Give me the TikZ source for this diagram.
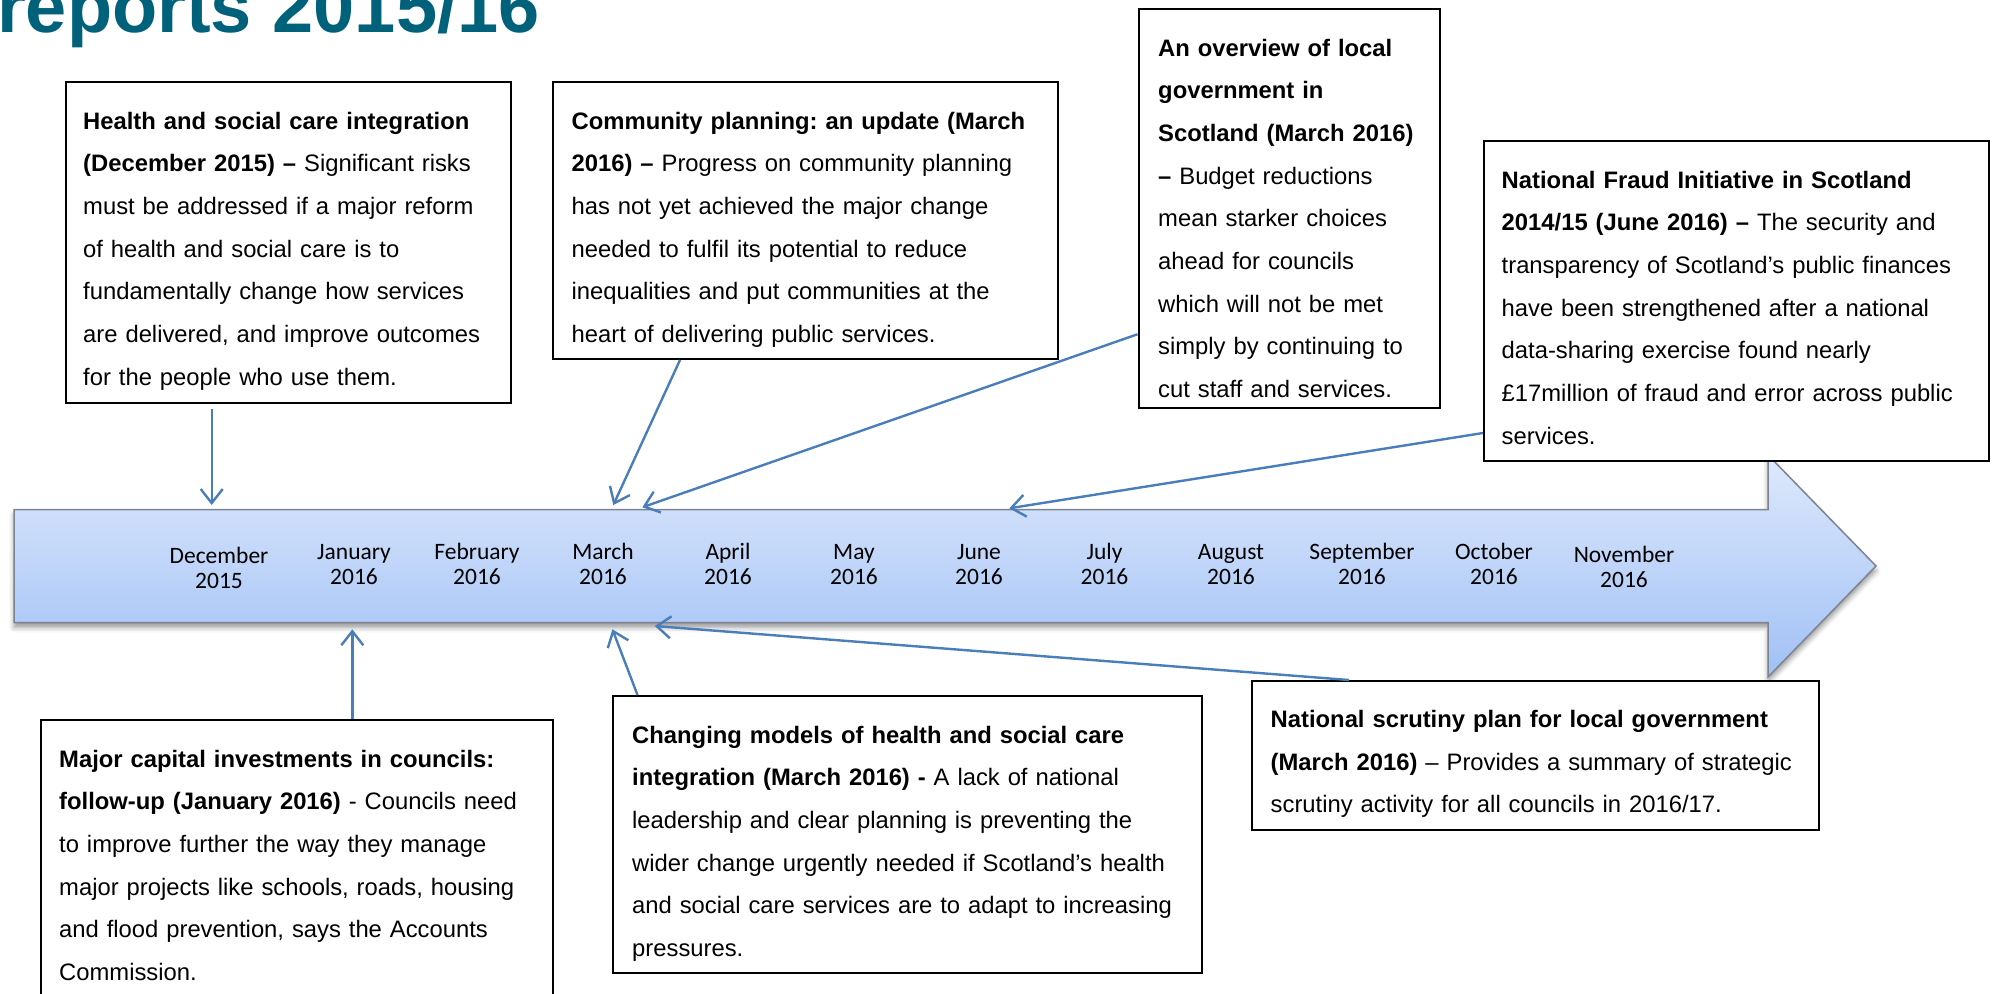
\documentclass[tikz,border=0pt]{standalone}
\usepackage{fontspec}
\setmainfont{Liberation Sans}
\newfontfamily\calfont{Carlito}
\usetikzlibrary{arrows.meta,calc,shadows.blur}
\definecolor{titleblue}{RGB}{0,97,122}
\definecolor{connblue}{RGB}{74,126,187}
\definecolor{arrowtop}{RGB}{222,233,252}
\definecolor{arrowbot}{RGB}{160,192,245}
\definecolor{arrowline}{RGB}{125,132,145}
\frenchspacing
\begin{document}
\begin{tikzpicture}[x=1pt,y=-1pt,
  box/.style={draw=black, line width=2pt, fill=white, rectangle, inner sep=0pt, anchor=north west},
  txt/.style={anchor=base west, inner sep=0pt, align=left, font=\frenchspacing\fontsize{23.8}{42.7}\selectfont},
  month/.style={font=\calfont\fontsize{23.5}{25}\selectfont, align=center, inner sep=0pt},
  conn/.style={draw=connblue, line width=2.4pt, -{Straight Barb[length=14pt,width=22pt]}},
  timeline/.style={draw=arrowline, line width=1.5pt, top color=arrowtop, bottom color=arrowbot,
    blur shadow={shadow xshift=0pt, shadow yshift=-5pt, shadow blur radius=5pt, shadow opacity=40}},
]
\useasboundingbox (0,0) rectangle (1993,993);

% title
\node[anchor=base west, inner sep=0pt, text=titleblue, font=\bfseries\fontsize{74}{80}\selectfont] (title) at (-3,32) {reports 2015/16};

% timeline arrow
\path[timeline] (14,509.5) -- (1768,509.5) -- (1768,455) -- (1876,566) -- (1768,677) -- (1768,622.5) -- (14,622.5) -- cycle;

% months
\node[month] (m1) at (219,567.5) {December\\2015};
\node[month] (m2) at (354,564.3) {January\\2016};
\node[month] (m3) at (477,564.3) {February\\2016};
\node[month] (m4) at (603,564.3) {March\\2016};
\node[month] (m5) at (728,564.3) {April\\2016};
\node[month] (m6) at (854,564.3) {May\\2016};
\node[month] (m7) at (979,564.3) {June\\2016};
\node[month] (m8) at (1104.5,564.3) {July\\2016};
\node[month] (m9) at (1231,564.3) {August\\2016};
\node[month] (m10) at (1362,564.3) {September\\2016};
\node[month] (m11) at (1494,564.3) {October\\2016};
\node[month] (m12) at (1624,567.2) {November\\2016};

% tips
\coordinate (tDec) at (211.7,505);
\coordinate (tMarA) at (613.3,505);
\coordinate (tMarB) at (642.3,507.3);
\coordinate (tJun) at (1009.3,508.3);
\coordinate (tJan) at (352.3,629.3);
\coordinate (tMarC) at (612.4,629.3);
\coordinate (tMarD) at (654.8,626);

% boxes
\node[box, minimum width=444.6pt, minimum height=320.7pt] (b1) at (65,81) {};
\node[box, minimum width=505pt, minimum height=277pt] (b2) at (552,81) {};
\node[box, minimum width=301pt, minimum height=399.5pt] (b3) at (1137.5,7.5) {};
\node[box, minimum width=504.5pt, minimum height=320pt] (b4) at (1483,140) {};
\node[box, minimum width=511.5pt, minimum height=300pt] (b5) at (40,719) {};
\node[box, minimum width=589.5pt, minimum height=277.3pt] (b6) at (611.5,695) {};
\node[box, minimum width=567pt, minimum height=149pt] (b7) at (1251,680) {};

% texts
\node[txt, text width=420pt] (t1) at ([shift={(18pt,-48pt)}]b1.north west)
 {\textbf{Health and social care integration}\\
  \textbf{(December 2015) –} Significant risks\\
  must be addressed if a major reform\\
  of health and social care is to\\
  fundamentally change how services\\
  are delivered, and improve outcomes\\
  for the people who use them.};
\node[txt, text width=480pt] (t2) at ([shift={(19.5pt,-48pt)}]b2.north west)
 {\textbf{Community planning: an update (March}\\
  \textbf{2016) –} Progress on community planning\\
  has not yet achieved the major change\\
  needed to fulfil its potential to reduce\\
  inequalities and put communities at the\\
  heart of delivering public services.};
\node[txt, text width=276pt] (t3) at ([shift={(20.5pt,-48.5pt)}]b3.north west)
 {\textbf{An overview of local}\\
  \textbf{government in}\\
  \textbf{Scotland (March 2016)}\\
  \textbf{–} Budget reductions\\
  mean starker choices\\
  ahead for councils\\
  which will not be met\\
  simply by continuing to\\
  cut staff and services.};
\node[txt, text width=480pt] (t4) at ([shift={(18.5pt,-48pt)}]b4.north west)
 {\textbf{National Fraud Initiative in Scotland}\\
  \textbf{2014/15 (June 2016) –} The security and\\
  transparency of Scotland’s public finances\\
  have been strengthened after a national\\
  data-sharing exercise found nearly\\
  £17million of fraud and error across public\\
  services.};
\node[txt, text width=486pt] (t5) at ([shift={(19pt,-48pt)}]b5.north west)
 {\textbf{Major capital investments in councils:}\\
  \textbf{follow-up (January 2016)} - Councils need\\
  to improve further the way they manage\\
  major projects like schools, roads, housing\\
  and flood prevention, says the Accounts\\
  Commission.};
\node[txt, text width=564pt] (t6) at ([shift={(20.5pt,-48pt)}]b6.north west)
 {\textbf{Changing models of health and social care}\\
  \textbf{integration (March 2016) -} A lack of national\\
  leadership and clear planning is preventing the\\
  wider change urgently needed if Scotland’s health\\
  and social care services are to adapt to increasing\\
  pressures.};
\node[txt, text width=542pt] (t7) at ([shift={(19.5pt,-47.5pt)}]b7.north west)
 {\textbf{National scrutiny plan for local government}\\
  \textbf{(March 2016)} – Provides a summary of strategic\\
  scrutiny activity for all councils in 2016/17.};

% connectors
\draw[conn] ([xshift=146.7pt,yshift=-5pt]b1.south west) -- (tDec);
\draw[conn] ([xshift=128pt]b2.south west) -- (tMarA);
\draw[conn] ([yshift=-126pt]b3.west) -- (tMarB);
\draw[conn] ([yshift=-132pt]b4.west) -- (tJun);
\draw[conn] ([xshift=312.3pt]b5.north west) -- (tJan);
\draw[conn] ([xshift=26pt]b6.north west) -- (tMarC);
\draw[conn] ([xshift=98pt]b7.north west) -- (tMarD);
\end{tikzpicture}
\end{document}
